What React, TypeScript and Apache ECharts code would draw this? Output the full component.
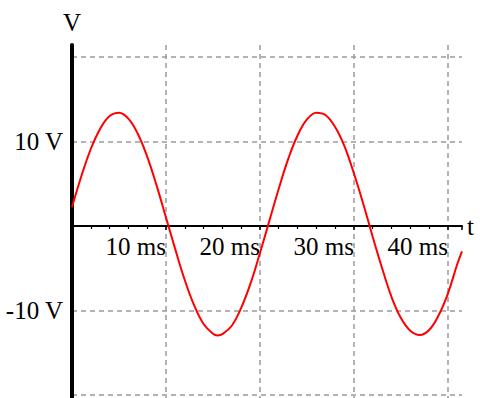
import React, { useEffect, useRef } from "react";
import * as echarts from "echarts";

// time in ms
const timesMs = [0, 1, 2, 3, 4, 5, 6, 7, 8, 9, 10, 11, 12, 13, 14, 15, 15.5, 16, 17, 18, 19, 20, 21, 22, 23, 24, 25, 26, 27, 28, 29, 30, 31, 32, 33, 34, 35, 36, 37, 38, 39, 40, 41, 41.5];
// voltage in V
const volts = [2.2, 5.9, 9.1, 11.5, 13.0, 13.4, 12.7, 10.9, 8.2, 4.8, 1.0, -2.8, -6.4, -9.4, -11.6, -12.75, -12.95, -12.8, -11.8, -9.7, -6.8, -3.2, 0.6, 4.4, 7.9, 10.7, 12.6, 13.4, 13.1, 11.7, 9.4, 6.2, 2.6, -1.3, -5.0, -8.4, -10.9, -12.4, -12.9, -12.3, -10.6, -8.0, -4.5, -3.0];

const xTickLabels: Record<number, string> = { 10: "10 ms", 20: "20 ms", 30: "30 ms", 40: "40 ms" };
const yTickLabels: Record<number, string> = { 10: "10 V", [-10]: "-10 V" };

const FONT = "'Liberation Serif', 'Times New Roman', serif";
const Y_MIN = -20.35;
const Y_MAX = 21.4;
const GRID_TOP = 45;
const GRID_H = 398 - GRID_TOP;

export default function App() {
  const ref = useRef<HTMLDivElement>(null);
  useEffect(() => {
    if (!ref.current) return;
    const chart = echarts.init(ref.current, undefined, { renderer: "svg" });
    const grid = { color: "#9a9a9a", type: [5, 4] as number[], width: 1.5 };
    // lift the time axis from the grid bottom up to V = 0
    const zeroOffset = -Math.round((-Y_MIN / (Y_MAX - Y_MIN)) * GRID_H);
    chart.setOption({
      animation: false,
      backgroundColor: "#ffffff",
      grid: { left: 72, right: 18, top: GRID_TOP, bottom: 0, containLabel: false, outerBoundsMode: "none" },
      xAxis: {
        type: "value",
        min: 0,
        max: 41.5,
        interval: 10,
        offset: zeroOffset,
        name: "t",
        nameLocation: "end",
        nameGap: 5,
        nameTextStyle: { fontFamily: FONT, fontSize: 25, color: "#000", verticalAlign: "middle" },
        axisLine: { show: true, onZero: false, lineStyle: { color: "#000", width: 2 } },
        axisTick: { show: true, length: 4, lineStyle: { color: "#000", width: 1.5 } },
        minorTick: { show: true, splitNumber: 5, length: 3, lineStyle: { color: "#000", width: 1.2 } },
        axisLabel: {
          show: true,
          showMinLabel: false,
          showMaxLabel: false,
          margin: 8,
          align: "right",
          fontFamily: FONT,
          fontSize: 25,
          color: "#000",
          formatter: (v: number) => xTickLabels[v] ?? "",
        },
        splitLine: { show: true, showMinLine: false, showMaxLine: false, lineStyle: grid },
      },
      yAxis: {
        type: "value",
        min: Y_MIN,
        max: Y_MAX,
        minInterval: 10,
        maxInterval: 10,
        name: "V",
        nameLocation: "end",
        nameGap: 10,
        nameTextStyle: { fontFamily: FONT, fontSize: 25, color: "#000" },
        axisLine: { show: true, onZero: true, lineStyle: { color: "#000", width: 4 } },
        axisTick: { show: false },
        axisLabel: {
          show: true,
          margin: 9,
          fontFamily: FONT,
          fontSize: 25,
          color: "#000",
          formatter: (v: number) => yTickLabels[v] ?? "",
        },
        splitLine: { show: true, showMinLine: false, showMaxLine: false, lineStyle: grid },
      },
      series: [
        {
          type: "line",
          data: timesMs.map((t, i) => [t, volts[i]]),
          showSymbol: false,
          smooth: 0.4,
          lineStyle: { color: "#ff0000", width: 2 },
          z: 3,
        },
      ],
    });
    return () => chart.dispose();
  }, []);
  return <div ref={ref} style={{ position: "fixed", left: 0, top: 0, width: 480, height: 398 }} />;
}
